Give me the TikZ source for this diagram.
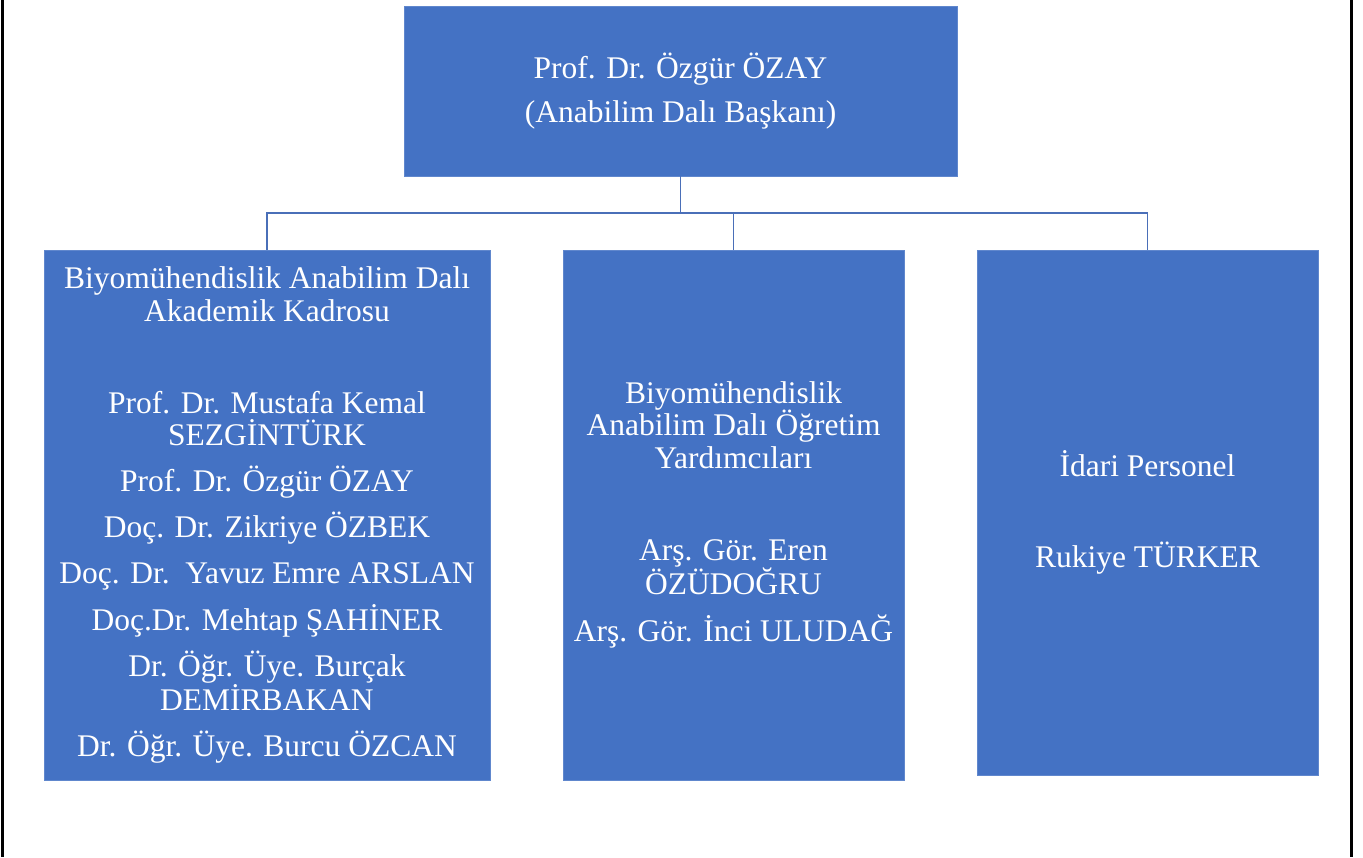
\documentclass[tikz,border=0pt]{standalone}
\usepackage{fontspec}
\setmainfont{Liberation Serif}
\definecolor{boxblue}{RGB}{68,114,196}
\definecolor{lineblue}{RGB}{74,111,184}
\begin{document}
\begin{tikzpicture}[x=1pt,y=-1pt,
  orgbox/.style={draw=boxblue!85!white,line width=0.8pt,fill=boxblue,text=white,inner sep=0pt,align=center,
    font=\fontsize{31.5}{32.5}\selectfont},
  link/.style={draw=lineblue,line width=1.3pt},
  frame/.style={draw=black,line width=2.5pt}]
\useasboundingbox (0,0) rectangle (1363,857);
\draw[frame] (2.5,0) -- (2.5,857);
\draw[frame] (1351.5,0) -- (1351.5,857);
\node[orgbox,minimum width=553pt,minimum height=170pt] (top) at (680.5,91)
  {Prof. Dr. Özgür ÖZAY\\[11.5pt](Anabilim Dalı Başkanı)};
\node[orgbox,minimum width=446pt,minimum height=530pt] (left) at (267,515)
  {Biyomühendislik Anabilim Dalı\\Akademik Kadrosu\\[59.5pt]
   Prof. Dr. Mustafa Kemal\\SEZGİNTÜRK\\[13.5pt]
   Prof. Dr. Özgür ÖZAY\\[13.5pt]
   Doç. Dr. Zikriye ÖZBEK\\[13.5pt]
   Doç. Dr.\ \ Yavuz Emre ARSLAN\\[13.5pt]
   Doç.Dr. Mehtap ŞAHİNER\\[13.5pt]
   Dr. Öğr. Üye. Burçak\\DEMİRBAKAN\\[13.5pt]
   Dr. Öğr. Üye. Burcu ÖZCAN};
\node[orgbox,minimum width=341pt,minimum height=530pt] (mid) at (733.5,515)
  {Biyomühendislik\\Anabilim Dalı Öğretim\\Yardımcıları\\[59.5pt]
   Arş. Gör. Eren\\ÖZÜDOĞRU\\[14.5pt]
   Arş. Gör. İnci ULUDAĞ};
\node[orgbox,minimum width=341pt,minimum height=525pt] (right) at (1147.5,512.5)
  {İdari Personel\\[58.5pt]Rukiye TÜRKER};
\coordinate (bar) at (0,213);
\draw[link] (top.south) -- (top.south |- bar);
\draw[link] (left.north) |- (right.north |- bar) -- (right.north);
\draw[link] (mid.north) -- (mid.north |- bar);
\end{tikzpicture}
\end{document}
